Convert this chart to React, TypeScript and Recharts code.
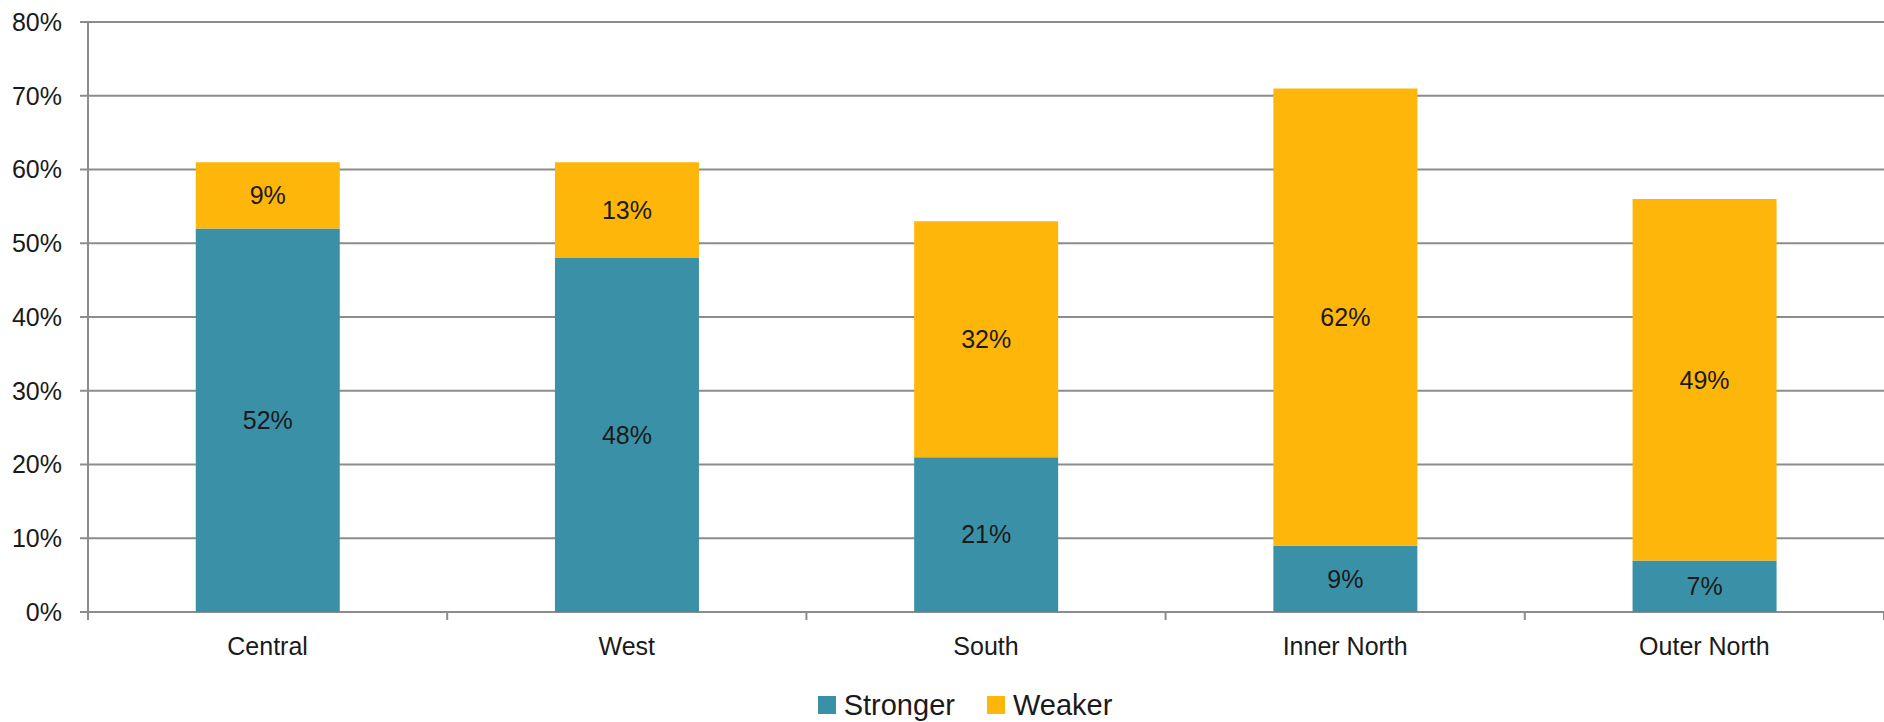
import React from 'react';
import { BarChart, Bar, XAxis, YAxis, CartesianGrid, Legend, LabelList } from 'recharts';

const regions = ['Central', 'West', 'South', 'Inner North', 'Outer North'];
const stronger = [52, 48, 21, 9, 7];
const weaker = [9, 13, 32, 62, 49];
const yTicks = [0, 10, 20, 30, 40, 50, 60, 70, 80];
const seriesNames = ['Stronger', 'Weaker'];
const seriesColors = ['#3A91A7', '#FFB60A'];

const data = regions.map((r, i) => ({ region: r, stronger: stronger[i], weaker: weaker[i] }));

const FONT = '"Liberation Sans", Arial, sans-serif';
const GRID = '#8c8c8c';

const XTick = (props: any) => {
  const { x, y, payload, index } = props;
  const off = payload && typeof payload.offset === 'number' ? payload.offset : 0;
  return (
    <g>
      <line x1={x - off} x2={x - off} y1={y} y2={y + 8} stroke={GRID} strokeWidth={2} />
      {index === regions.length - 1 && (
        <line x1={x + off} x2={x + off} y1={y} y2={y + 8} stroke={GRID} strokeWidth={2} />
      )}
      <text x={x} y={y + 43} textAnchor="middle" fontFamily={FONT} fontSize={25} fill="#1a1a1a">
        {payload.value}
      </text>
    </g>
  );
};

const LegendContent = () => (
  <div style={{ display: 'flex', justifyContent: 'center', alignItems: 'center', height: 34, paddingLeft: 46, fontFamily: FONT, fontSize: 29, color: '#1a1a1a' }}>
    {seriesNames.map((n, i) => (
      <div key={n} style={{ display: 'flex', alignItems: 'center', marginRight: i === 0 ? 32 : 0 }}>
        <div style={{ width: 18, height: 18, background: seriesColors[i], marginRight: 8 }} />
        <span>{n}</span>
      </div>
    ))}
  </div>
);

export default function App() {
  return (
    <div style={{ position: 'absolute', left: 0, top: 0, background: '#fff' }}>
      <BarChart width={1884} height={722} data={data} margin={{ top: 22, right: 0, left: 0, bottom: 0 }} barCategoryGap="30%">
        <CartesianGrid vertical={false} stroke={GRID} strokeWidth={2} />
        <XAxis dataKey="region" height={76} interval={0} tickLine={false} axisLine={false} tickSize={0} tickMargin={0} tick={<XTick />} />
        <YAxis
          width={88}
          domain={[0, 80]}
          ticks={yTicks}
          interval={0}
          tickFormatter={(v: number) => `${v}%`}
          tickSize={8}
          tickMargin={18}
          axisLine={{ stroke: GRID, strokeWidth: 2 }}
          tickLine={{ stroke: GRID, strokeWidth: 2 }}
          tick={{ fontFamily: FONT, fontSize: 25, fill: '#1a1a1a' }}
        />
        <Legend verticalAlign="bottom" height={34} content={<LegendContent />} />
        <Bar dataKey="stronger" name={seriesNames[0]} stackId="a" fill={seriesColors[0]} isAnimationActive={false}>
          <LabelList dataKey="stronger" position="center" formatter={(v: any) => `${v}%`} style={{ fontFamily: FONT, fontSize: 25, fill: '#1a1a1a' }} />
        </Bar>
        <Bar dataKey="weaker" name={seriesNames[1]} stackId="a" fill={seriesColors[1]} isAnimationActive={false}>
          <LabelList dataKey="weaker" position="center" formatter={(v: any) => `${v}%`} style={{ fontFamily: FONT, fontSize: 25, fill: '#1a1a1a' }} />
        </Bar>
      </BarChart>
    </div>
  );
}
